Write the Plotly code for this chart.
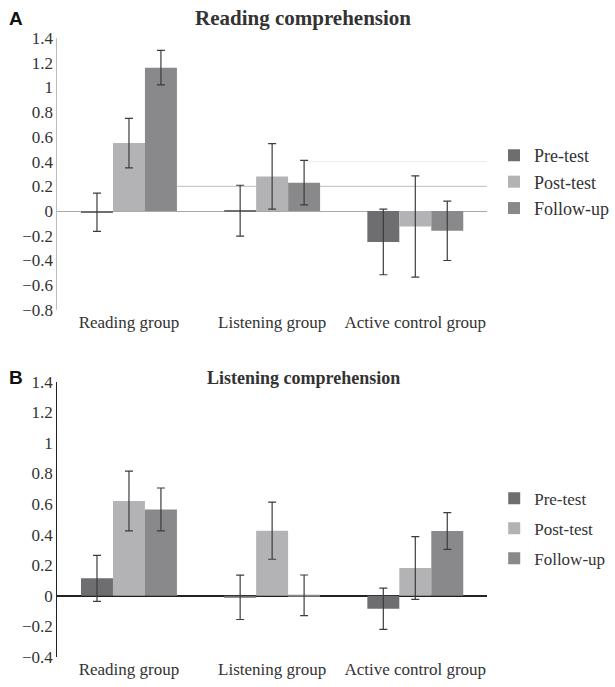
import plotly.graph_objects as go
from plotly.subplots import make_subplots

groups = ["Reading group", "Listening group", "Active control group"]
series = ["Pre-test", "Post-test", "Follow-up"]
colors = ["#6e6e70", "#b3b3b5", "#89898b"]

# Panel A: Reading comprehension
reading_vals = {
    "Pre-test": [-0.01, 0.003, -0.25],
    "Post-test": [0.55, 0.28, -0.125],
    "Follow-up": [1.16, 0.23, -0.16],
}
reading_err = {
    "Pre-test": [0.155, 0.206, 0.265],
    "Post-test": [0.20, 0.265, 0.41],
    "Follow-up": [0.14, 0.18, 0.24],
}

# Panel B: Listening comprehension
listening_vals = {
    "Pre-test": [0.114, -0.01, -0.085],
    "Post-test": [0.62, 0.426, 0.182],
    "Follow-up": [0.565, 0.003, 0.424],
}
listening_err = {
    "Pre-test": [0.15, 0.145, 0.135],
    "Post-test": [0.195, 0.187, 0.205],
    "Follow-up": [0.14, 0.133, 0.12],
}

ticks_a = [1.4, 1.2, 1, 0.8, 0.6, 0.4, 0.2, 0, -0.2, -0.4, -0.6, -0.8]
ticks_b = [1.4, 1.2, 1, 0.8, 0.6, 0.4, 0.2, 0, -0.2, -0.4]


def fmt(v):
    s = ("%g" % v)
    return s.replace("-", "\u2212")


fig = make_subplots(rows=2, cols=1)

for i, s in enumerate(series):
    fig.add_trace(go.Bar(
        x=groups, y=reading_vals[s], name=s, marker_color=colors[i],
        marker_line_width=0,
        error_y=dict(type="data", array=reading_err[s], color="#3c3c3c",
                     thickness=1.2, width=4),
        legend="legend", legendgroup="a" + s,
    ), row=1, col=1)
for i, s in enumerate(series):
    fig.add_trace(go.Bar(
        x=groups, y=listening_vals[s], name=s, marker_color=colors[i],
        marker_line_width=0,
        error_y=dict(type="data", array=listening_err[s], color="#3c3c3c",
                     thickness=1.2, width=4),
        legend="legend2", legendgroup="b" + s,
    ), row=2, col=1)

serif = "Liberation Serif, Times New Roman, serif"
dom_x = [0.1003, 0.8512]
tick_font = dict(size=17, family=serif, color="#333333")

fig.update_layout(
    width=615, height=687, autosize=False,
    margin=dict(l=0, r=0, t=0, b=0),
    paper_bgcolor="white", plot_bgcolor="white",
    barmode="group", bargap=0.33, bargroupgap=0,
    font=dict(family=serif, size=17, color="#333333"),
    xaxis=dict(domain=dom_x, showline=False, ticks="", showgrid=False,
               tickfont=tick_font, anchor="y", automargin=False),
    yaxis=dict(domain=[0.5488, 0.9447], range=[-0.8, 1.4], showgrid=False,
               showline=True, linecolor="#bdbdbd", linewidth=1,
               zeroline=True, zerolinecolor="#a8a8a8", zerolinewidth=1,
               tickvals=ticks_a, ticktext=[fmt(v) for v in ticks_a], ticks="",
               ticklabelstandoff=0, tickfont=tick_font, automargin=False),
    xaxis2=dict(domain=dom_x, showline=False, ticks="", showgrid=False,
                tickfont=tick_font, anchor="y2", automargin=False),
    yaxis2=dict(domain=[0.0437, 0.4444], range=[-0.4, 1.4], showgrid=False,
                showline=True, linecolor="#222222", linewidth=1.3,
                zeroline=True, zerolinecolor="#222222", zerolinewidth=1.5,
                tickvals=ticks_b, ticktext=[fmt(v) for v in ticks_b], ticks="",
                ticklabelstandoff=0, tickfont=tick_font, automargin=False),
    legend=dict(x=0.864, y=0.735, xanchor="left", yanchor="middle",
                font=dict(size=18, family=serif, color="#333333"),
                bgcolor="rgba(0,0,0,0)", tracegroupgap=0, itemwidth=30),
    legend2=dict(x=0.864, y=0.2306, xanchor="left", yanchor="middle",
                 font=dict(size=17, family=serif, color="#333333"),
                 bgcolor="rgba(0,0,0,0)", tracegroupgap=5, itemwidth=30),
    showlegend=True,
)

# faint stray horizontal lines in panel A (as in the original)
fig.add_shape(type="line", xref="x domain", yref="y", x0=0.278, x1=1.0,
              y0=0.2, y1=0.2, line=dict(color="#bdbdbd", width=1), layer="below")
fig.add_shape(type="line", xref="x domain", yref="y", x0=0.58, x1=1.0,
              y0=0.4, y1=0.4, line=dict(color="#ececec", width=1), layer="below")

fig.add_annotation(text="<b>Reading comprehension</b>", xref="paper", yref="paper",
                   x=0.53, y=1 - 18 / 687, showarrow=False,
                   font=dict(size=21, family=serif, color="#333333"),
                   xanchor="center", yanchor="middle")
fig.add_annotation(text="<b>Listening comprehension</b>", xref="paper", yref="paper",
                   x=0.53, y=1 - 378 / 687, showarrow=False,
                   font=dict(size=18, family=serif, color="#333333"),
                   xanchor="center", yanchor="middle")
fig.add_annotation(text="<b>A</b>", xref="paper", yref="paper",
                   x=7 / 615, y=1 - 19 / 687, showarrow=False,
                   font=dict(size=19, family="Liberation Sans, Arial, sans-serif", color="#111111"),
                   xanchor="left", yanchor="middle")
fig.add_annotation(text="<b>B</b>", xref="paper", yref="paper",
                   x=7 / 615, y=1 - 378 / 687, showarrow=False,
                   font=dict(size=19, family="Liberation Sans, Arial, sans-serif", color="#111111"),
                   xanchor="left", yanchor="middle")

fig.write_html("out.html",
               config={"displayModeBar": False, "responsive": False},
               post_script="document.body.style.margin='0px';"
                           "document.body.style.overflow='hidden';")
